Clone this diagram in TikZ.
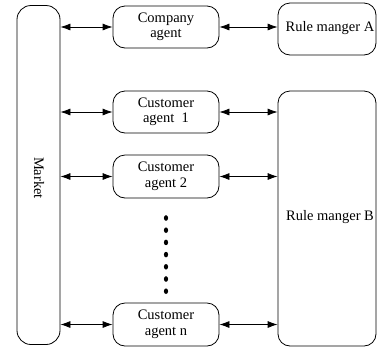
\documentclass[tikz,border=0pt]{standalone}
\usepackage{fontspec}
\setmainfont{Liberation Serif}
\usetikzlibrary{arrows.meta}
\begin{document}
\begin{tikzpicture}[x=1pt,y=-1pt,
  every node/.style={font=\fontsize{14.5}{15.5}\selectfont},
  box/.style={draw,line width=0.8pt,rounded corners=12pt,inner sep=0pt,align=center},
  link/.style={line width=0.8pt,{Latex[length=10pt,width=7pt]}-{Latex[length=10pt,width=7pt]}}]
\useasboundingbox (0,0) rectangle (377,349);
% market column on the left
\node[box,rounded corners=14pt,minimum width=43pt,minimum height=339pt] (market) at (38.5,175) {};
\node[rotate=-90] (mlabel) at (39,178) {Market};
% agents in the middle column
\node[box,minimum width=106pt,minimum height=42pt] (company) at (166,27) {Company\\agent};
\node[box,minimum width=106pt,minimum height=42pt] (cust1) at (166,112) {Customer\\agent\ \ 1};
\node[box,minimum width=106pt,minimum height=43pt] (cust2) at (166,176.5) {Customer\\agent 2};
\node[box,minimum width=106pt,minimum height=43pt] (custn) at (166,324.5) {Customer\\agent n};
% rule managers on the right
\node[box,minimum width=98pt,minimum height=52pt] (ruleA) at (327,29) {};
\node (ruleAtext) at (330,28) {Rule manger A};
\node[box,minimum width=98pt,minimum height=255pt] (ruleB) at (327,218.5) {};
\node (ruleBtext) at (330,217) {Rule manger B};
% vertical ellipsis between agent 2 and agent n
\foreach \k in {0,...,6}
  \fill (166,218+12.2*\k) ellipse (2.1pt and 2.8pt);
% links market <-> agents
\foreach \a in {company,cust1,cust2,custn}
  \draw[link] (market.east |- \a.west) -- (\a.west);
% links agents <-> rule managers
\draw[link] (company.east) -- (ruleA.west |- company.east);
\foreach \a in {cust1,cust2,custn}
  \draw[link] (\a.east) -- (ruleB.west |- \a.east);
\end{tikzpicture}
\end{document}
